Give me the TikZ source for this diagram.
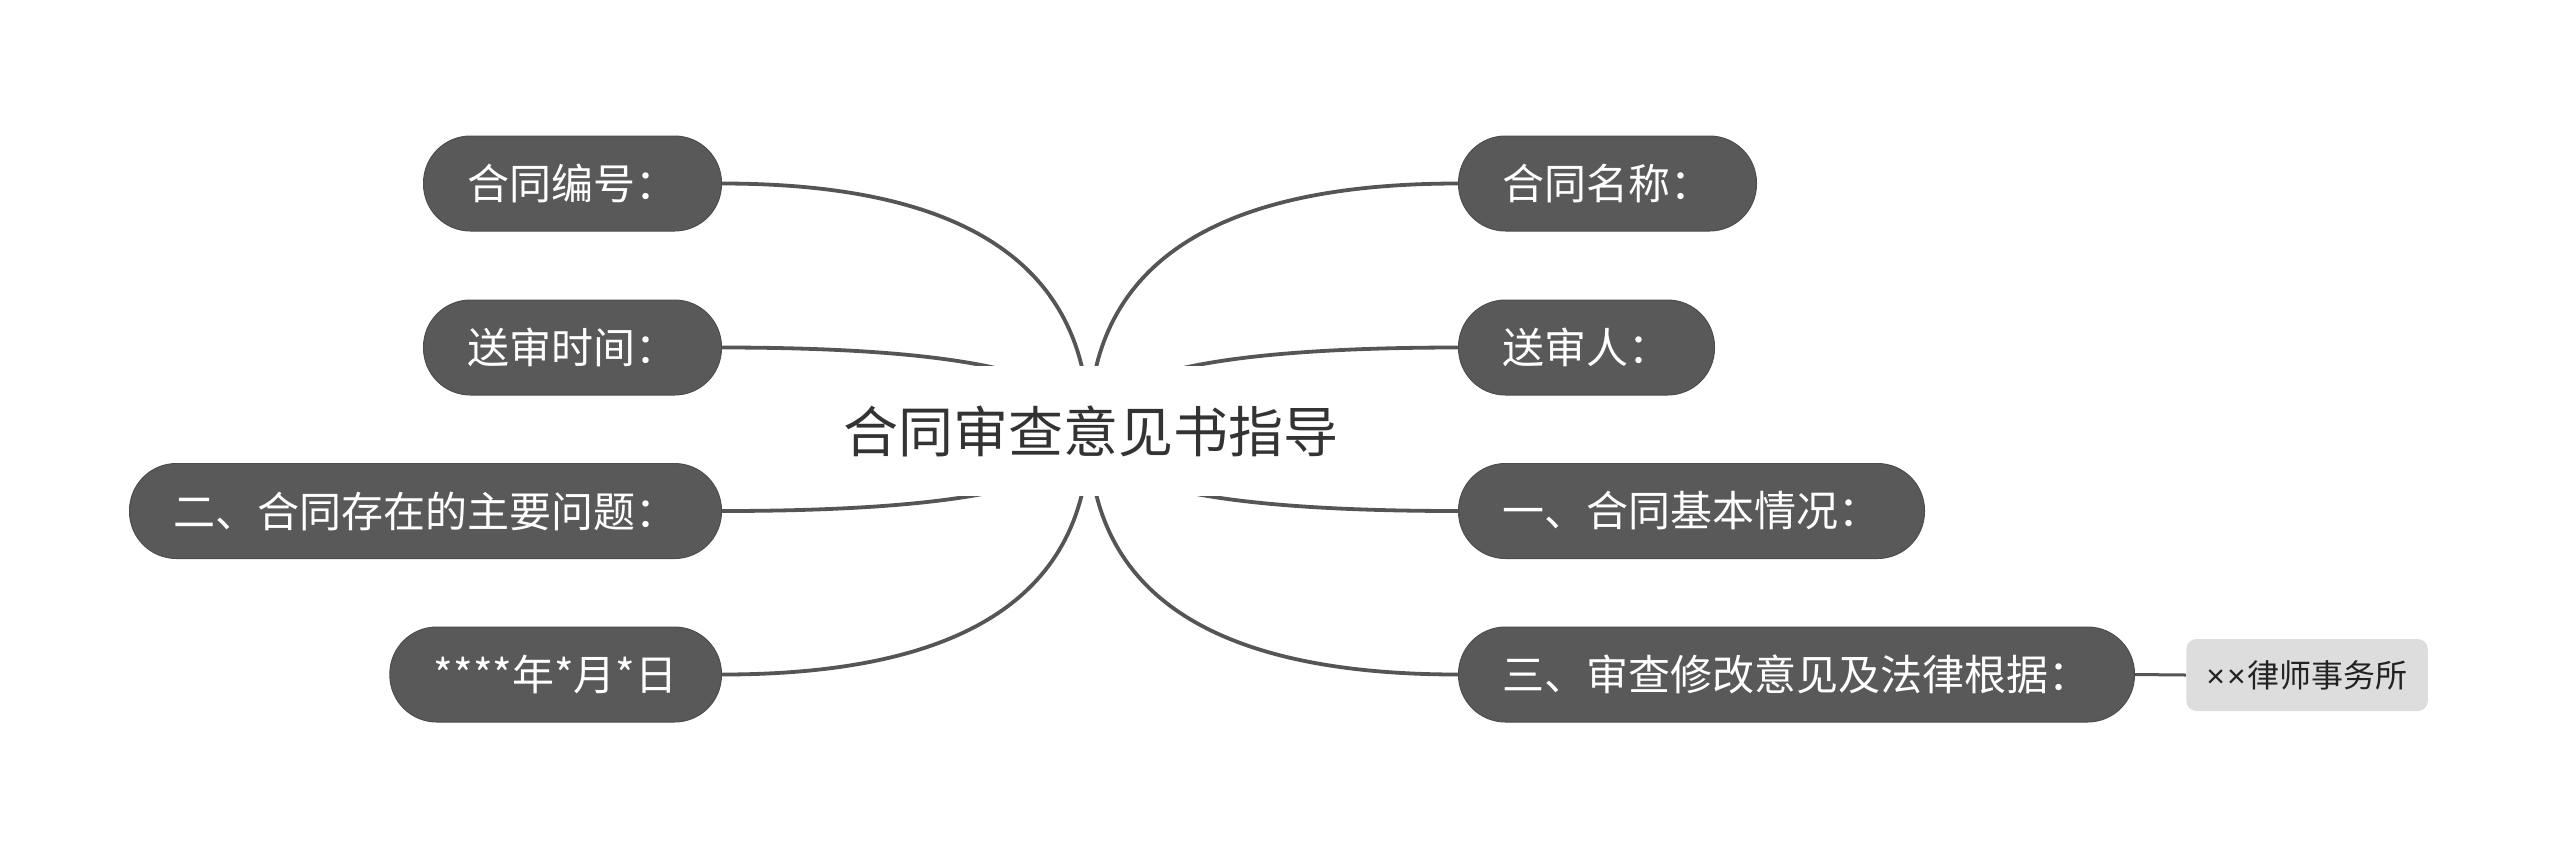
\documentclass[tikz,border=0pt]{standalone}
\usepackage{fontspec}
\usetikzlibrary{backgrounds,calc}
\newfontfamily\cjk{Noto Sans CJK SC}
\newfontfamily\latin{Liberation Sans}
\definecolor{mapink}{HTML}{333333}
\definecolor{noteink}{HTML}{222222}
\definecolor{topicfill}{HTML}{595959}
\definecolor{topicedge}{HTML}{4D4D4D}
\definecolor{branchline}{HTML}{555555}
\definecolor{notefill}{HTML}{DDDDDD}

\begin{document}
\begin{tikzpicture}[
  x=0.5pt,
  y=-0.5pt,
  every node/.style={font=\cjk},
  centretopic/.style={fill=white, text=mapink, inner xsep=16pt,
    font=\cjk\fontsize{27.5pt}{30pt}\selectfont, minimum height=65pt},
  topic/.style={fill=topicfill, draw=topicedge, line width=0.5pt, text=white,
    font=\cjk\fontsize{21pt}{24pt}\selectfont, rounded corners=23.5pt,
    minimum height=47.5pt, inner xsep=22pt, inner ysep=0pt},
  notebox/.style={fill=notefill, text=noteink, rounded corners=5pt,
    font=\cjk\fontsize{16pt}{18pt}\selectfont, minimum height=36pt,
    inner xsep=10pt, inner ysep=0pt},
  branch/.style={branchline, line width=1.9pt},
  leaf/.style={branchline, line width=1.5pt}
]
  \useasboundingbox (0,0) rectangle (2560,859);

  % ================= centre =============================================
  \coordinate (hub) at (1089,431);
  \node[centretopic] (title) at (1091,431) {合同审查意见书指导};

  % ================= left side ==========================================
  \node[topic, anchor=east] (number) at (722,183.5) {合同编号：};
  \node[topic, anchor=east] (sendtime) at (722,347.5) {送审时间：};
  \node[topic, anchor=east] (issues) at (722,511) {二、合同存在的主要问题：};
  \node[topic, anchor=east] (date) at (722,674.5) {****年*月*日};

  % ================= right side =========================================
  \node[topic, anchor=west] (name) at (1458,183.5) {合同名称：};
  \node[topic, anchor=west] (sender) at (1458,347.5) {送审人：};
  \node[topic, anchor=west] (basics) at (1458,511) {一、合同基本情况：};
  \node[topic, anchor=west] (advice) at (1458,674.5) {三、审查修改意见及法律根据：};

  % the two crosses are narrow ones, not the full-width CJK glyph
  \node[notebox, anchor=west] (firm) at (2186,675)
    {{\latin ×\kern1pt×\kern1pt}律师事务所};

  % ================= branches ===========================================
  % Quadratic curves from the hub, written as cubics (2/3 towards the
  % corner point); the white title box hides their roots.
  \begin{scope}[on background layer]
    \foreach \t/\a in {number/east, sendtime/east, issues/east, date/east,
                       name/west, sender/west, basics/west, advice/west}
      \draw[branch] (hub)
        .. controls ($(hub)!2/3!(hub |- \t.\a)$)
        and ($(\t.\a)!2/3!(hub |- \t.\a)$) .. (\t.\a);
    \draw[leaf] (advice.east) -- (firm.west);
  \end{scope}
\end{tikzpicture}
\end{document}
